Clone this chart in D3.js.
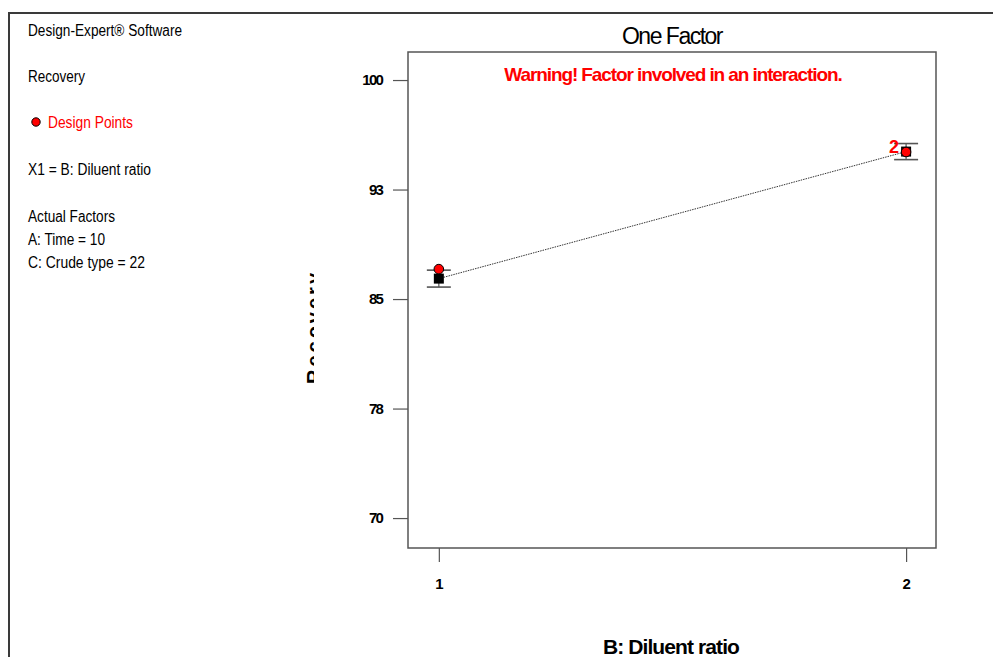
<!DOCTYPE html>
<html>
<head>
<meta charset="utf-8">
<script src="https://cdn.jsdelivr.net/npm/d3@7"></script>
<style>
  html, body { margin: 0; padding: 0; background: #fff; }
  svg { display: block; }
  text { font-family: "Liberation Sans", Arial, sans-serif; }
</style>
</head>
<body>
<svg id="chart" width="993" height="657"></svg>
<script>
// Factor levels on the x axis
const levels = [1, 2];
const levelLabels = ["1", "2"];
// Predicted Recovery at each level, with LSD half-width
const predicted = [86.4, 95.1];
const lsdHalf = [0.58, 0.55];
// Observed design points and replicate counts
const designPoints = [87.05, 95.07];
const replicates = [1, 2];
// Y axis ticks and their labels
const yTicks = [70, 77.5, 85, 92.5, 100];
const yTickLabels = ["70", "78", "85", "93", "100"];

// Side panel text lines
const infoLines = [
  { text: "Design-Expert® Software", y: 36, w: 154, color: "#000" },
  { text: "Recovery", y: 82, w: 57, color: "#000" },
  { text: "Design Points", y: 128, w: 85, color: "#ff0000", x: 48 },
  { text: "X1 = B: Diluent ratio", y: 175, w: 123, color: "#000" },
  { text: "Actual Factors", y: 222, w: 87, color: "#000" },
  { text: "A: Time = 10", y: 245, w: 77, color: "#000" },
  { text: "C: Crude type = 22", y: 268, w: 117, color: "#000" }
];

const svg = d3.select("#chart");

// Outer frame (top and left edges)
svg.append("path")
  .attr("d", "M9,657 L9,13 L993,13")
  .attr("fill", "none").attr("stroke", "#3a3a3a").attr("stroke-width", 2);

// Side panel
const info = svg.append("g");
info.selectAll("text").data(infoLines).join("text")
  .attr("x", d => d.x || 28)
  .attr("y", d => d.y)
  .attr("font-size", 16)
  .attr("fill", d => d.color)
  .attr("textLength", d => d.w)
  .attr("lengthAdjust", "spacingAndGlyphs")
  .text(d => d.text);
info.append("circle")
  .attr("cx", 36).attr("cy", 122).attr("r", 4.2)
  .attr("fill", "#ff0000").attr("stroke", "#000").attr("stroke-width", 1);

// Plot area
const box = { left: 408, right: 936, top: 52, bottom: 548 };
const x = d3.scaleLinear().domain([0.934, 2.064]).range([box.left, box.right]);
const y = d3.scaleLinear().domain([67.95, 101.92]).range([box.bottom, box.top]);

// Plot frame
svg.append("rect")
  .attr("x", box.left).attr("y", box.top)
  .attr("width", box.right - box.left).attr("height", box.bottom - box.top)
  .attr("fill", "none").attr("stroke", "#555").attr("stroke-width", 1.5);

// Y axis
const yAxis = d3.axisLeft(y)
  .tickValues(yTicks)
  .tickSize(15)
  .tickPadding(11)
  .tickFormat((d, i) => yTickLabels[i]);
const gy = svg.append("g").attr("transform", `translate(${box.left},0)`).call(yAxis);
gy.select(".domain").remove();
gy.selectAll(".tick line").attr("stroke", "#555").attr("stroke-width", 1.2);
gy.selectAll(".tick text")
  .attr("font-size", 15).attr("font-weight", "bold").attr("fill", "#000")
  .attr("font-family", "Liberation Sans, Arial, sans-serif")
  .attr("letter-spacing", -1.8);

// X axis
const xAxis = d3.axisBottom(x)
  .tickValues(levels)
  .tickSize(14)
  .tickPadding(16)
  .tickFormat((d, i) => levelLabels[i]);
const gx = svg.append("g").attr("transform", `translate(0,${box.bottom})`).call(xAxis);
gx.select(".domain").remove();
gx.selectAll(".tick line").attr("stroke", "#555").attr("stroke-width", 1.2);
gx.selectAll(".tick text")
  .attr("font-size", 15).attr("font-weight", "bold").attr("fill", "#000")
  .attr("font-family", "Liberation Sans, Arial, sans-serif");

// Titles
svg.append("text")
  .attr("x", 672).attr("y", 44).attr("text-anchor", "middle")
  .attr("font-size", 23).attr("fill", "#000")
  .attr("letter-spacing", -1.5)
  .text("One Factor");

svg.append("text")
  .attr("x", 673).attr("y", 81).attr("text-anchor", "middle")
  .attr("font-size", 19).attr("font-weight", "bold").attr("fill", "#ff0000")
  .attr("letter-spacing", -1.1)
  .text("Warning! Factor involved in an interaction.");

svg.append("text")
  .attr("x", 671).attr("y", 654).attr("text-anchor", "middle")
  .attr("font-size", 21).attr("font-weight", "bold").attr("fill", "#000")
  .attr("letter-spacing", -0.9)
  .text("B: Diluent ratio");

// Y axis title, cut by the panel edge
svg.append("clipPath").attr("id", "ytitle-clip")
  .append("rect").attr("x", 0).attr("y", 0).attr("width", 314).attr("height", 657);
svg.append("g").attr("clip-path", "url(#ytitle-clip)")
  .append("text")
  .attr("transform", "translate(321,327) rotate(-90)")
  .attr("text-anchor", "middle")
  .attr("font-size", 20).attr("font-weight", "bold").attr("fill", "#000")
  .attr("letter-spacing", 3)
  .text("Recovery");

// Prediction line
const pts = levels.map((l, i) => ({ l, p: predicted[i], h: lsdHalf[i], obs: designPoints[i], n: replicates[i] }));
svg.append("path")
  .datum(pts)
  .attr("d", d3.line().x(d => x(d.l)).y(d => y(d.p)))
  .attr("fill", "none").attr("stroke", "#000").attr("stroke-width", 0.8)
  .attr("stroke-dasharray", "1.5,1");

// LSD bars
const bars = svg.append("g");
pts.forEach(d => {
  const cx = x(d.l);
  bars.append("line").attr("x1", cx).attr("x2", cx)
    .attr("y1", y(d.p + d.h)).attr("y2", y(d.p - d.h))
    .attr("stroke", "#555").attr("stroke-width", 1.2);
  [d.p + d.h, d.p - d.h].forEach(v => {
    bars.append("line").attr("x1", cx - 12).attr("x2", cx + 12)
      .attr("y1", y(v)).attr("y2", y(v))
      .attr("stroke", "#555").attr("stroke-width", 1.6);
  });
});

// Predicted values
svg.append("g").selectAll("rect").data(pts).join("rect")
  .attr("x", d => x(d.l) - 5).attr("y", d => y(d.p) - 5)
  .attr("width", 10).attr("height", 10)
  .attr("fill", "#000");

// Design points
svg.append("g").selectAll("circle").data(pts).join("circle")
  .attr("cx", d => x(d.l)).attr("cy", d => y(d.obs))
  .attr("r", 4.8)
  .attr("fill", "#ff0000").attr("stroke", "#000").attr("stroke-width", 1);

// Replicate counts
svg.append("g").selectAll("text").data(pts.filter(d => d.n > 1)).join("text")
  .attr("x", d => x(d.l) - 8).attr("y", d => y(d.obs) + 1)
  .attr("text-anchor", "end")
  .attr("font-size", 18).attr("font-weight", "bold").attr("fill", "#ff0000")
  .attr("letter-spacing", -1)
  .text(d => d.n);
</script>
</body>
</html>
